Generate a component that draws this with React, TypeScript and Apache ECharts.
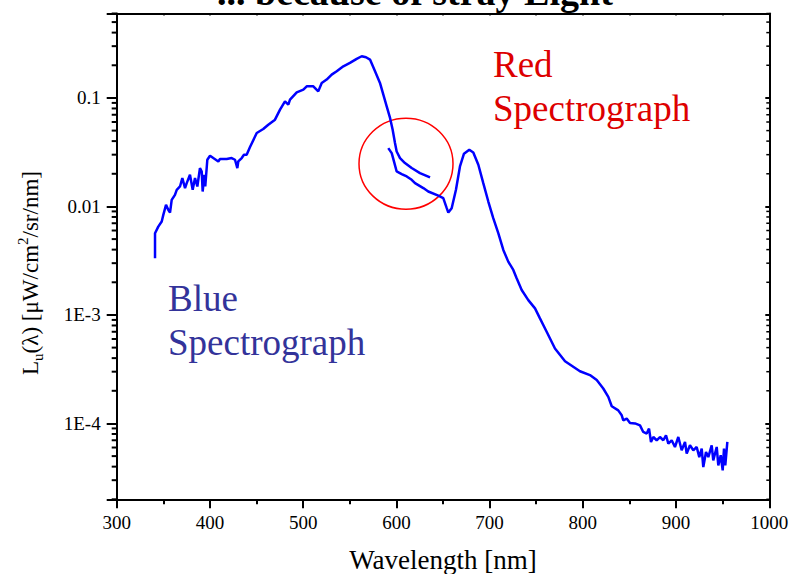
import React, { useEffect, useRef } from "react";
import * as echarts from "echarts";

// Blue spectrograph (wavelength nm, radiance)
const blueX = [341.1, 341.1, 344.6, 348.3, 350.0, 352.9, 355.3, 357.2, 359.0, 362.5, 364.4, 367.9, 370.4, 373.3, 375.1, 378.6, 381.5, 384.0, 386.5, 389.3, 391.2, 392.2, 394.0, 395.0, 397.2, 400.1, 403.6, 409.0, 410.8, 418.0, 423.3, 426.9, 429.4, 430.4, 434.1, 436.5, 439.4, 443.0, 450.2, 457.2, 462.6, 469.8, 475.2, 480.5, 484.1, 485.9, 493.1, 500.2, 503.8, 510.9, 516.2, 519.9, 525.2, 530.6, 536.0, 543.1, 550.2, 557.4, 562.8, 567.4, 571.7, 577.1, 582.4, 586.0, 589.6, 593.2, 596.0, 598.5, 600.3, 603.9, 609.2, 616.4, 625.3, 636.1];
const blueY = [0.00333, 0.00567, 0.00652, 0.00726, 0.00836, 0.01034, 0.0093, 0.00878, 0.0115, 0.0128, 0.01423, 0.01527, 0.01825, 0.01476, 0.01641, 0.01958, 0.01423, 0.0183, 0.01527, 0.02258, 0.021, 0.01373, 0.01958, 0.01527, 0.02694, 0.02933, 0.02793, 0.02598, 0.02734, 0.02734, 0.02793, 0.02694, 0.02258, 0.02598, 0.02793, 0.02995, 0.02995, 0.03528, 0.04752, 0.05174, 0.05668, 0.06305, 0.07798, 0.093, 0.0867, 0.0964, 0.1126, 0.1193, 0.128, 0.128, 0.115, 0.1375, 0.1476, 0.1641, 0.176, 0.1958, 0.2104, 0.2292, 0.2422, 0.237, 0.2257, 0.176, 0.1375, 0.1073, 0.0837, 0.0654, 0.051, 0.0384, 0.0321, 0.0279, 0.0251, 0.0226, 0.0203, 0.0185];

// Red spectrograph
const redX = [591.3, 595.0, 597.4, 600.3, 605.7, 611.1, 616.4, 620.0, 628.9, 634.2, 645.0, 650.3, 654.0, 655.7, 659.3, 663.9, 668.2, 672.5, 678.2, 682.5, 687.9, 693.2, 698.6, 703.9, 709.3, 714.7, 720.0, 725.4, 729.0, 734.4, 741.5, 748.7, 754.0, 761.2, 770.1, 780.9, 796.9, 807.6, 814.9, 821.9, 827.3, 831.0, 838.0, 841.7, 843.4, 847.0, 850.6, 856.0, 861.3, 864.8, 868.5, 871.0, 873.1, 875.6, 879.2, 882.7, 886.3, 889.2, 891.7, 895.3, 898.8, 902.4, 906.0, 909.6, 911.4, 914.9, 918.5, 922.1, 924.9, 927.5, 929.2, 932.1, 934.6, 938.2, 939.9, 943.6, 945.3, 947.9, 950.0, 951.4, 952.8, 955.0];
const redY = [0.0345, 0.031, 0.026, 0.021, 0.01987, 0.01888, 0.0176, 0.0164, 0.01476, 0.01373, 0.0126, 0.01193, 0.00964, 0.00878, 0.00964, 0.01423, 0.02336, 0.0306, 0.0333, 0.03145, 0.0242, 0.0164, 0.0111, 0.0078, 0.00567, 0.00397, 0.0031, 0.0026, 0.00218, 0.0017, 0.00137, 0.00115, 0.00093, 0.0007, 0.00049, 0.000375, 0.000303, 0.000279, 0.000251, 0.00021, 0.000176, 0.000144, 0.000132, 0.000119, 0.000107, 0.000111, 0.000101, 0.0001, 0.000096, 0.0000835, 0.0000807, 0.0000897, 0.0000675, 0.000075, 0.00007, 0.000075, 0.00007, 0.0000778, 0.0000652, 0.00007, 0.0000607, 0.000075, 0.0000566, 0.0000675, 0.0000527, 0.0000629, 0.0000566, 0.0000607, 0.000049, 0.0000586, 0.0000396, 0.0000545, 0.000049, 0.0000629, 0.0000457, 0.0000607, 0.0000411, 0.0000509, 0.000037, 0.0000586, 0.0000411, 0.0000675];

// Axis settings
const xMin = 300;
const xMax = 1000;
const xStep = 100;
const yMin = 2e-5;
const yMax = 0.6;
const minorMantissas = [2, 3, 4, 5, 6, 7, 8, 9];
const minorDecades = [-5, -4, -3, -2, -1];
const yTickLabels: Record<number, string> = { [-1]: "0.1", [-2]: "0.01", [-3]: "1E-3", [-4]: "1E-4" };

const FONT = "Liberation Serif";

export default function App() {
  const ref = useRef<HTMLDivElement>(null);
  useEffect(() => {
    if (!ref.current) return;
    const chart = echarts.init(ref.current, null, { renderer: "svg" });
    const blueData = blueX.map((x, i) => [x, blueY[i]]);
    const redData = redX.map((x, i) => [x, redY[i]]);
    const minorVals: number[][] = [];
    minorDecades.forEach((d) => {
      minorMantissas.forEach((m) => {
        const v = m * Math.pow(10, d);
        if (v >= yMin * 0.999 && v <= yMax * 1.001) minorVals.push([xMin, v]);
      });
    });
    const axisLine = { show: true, onZero: false, lineStyle: { color: "#000", width: 2 } };
    const yFormatter = (v: number) => {
      const l = Math.log10(v);
      const r = Math.round(l);
      if (Math.abs(l - r) > 1e-6) return "";
      return yTickLabels[r] ?? "";
    };
    chart.setOption({
      animation: false,
      backgroundColor: "#fff",
      textStyle: { fontFamily: FONT },
      grid: { left: 116.7, right: 21.7, top: 13.5, bottom: 74.7, containLabel: false, outerBoundsMode: "none" },
      xAxis: [
        {
          type: "value",
          min: xMin,
          max: xMax,
          interval: xStep,
          position: "bottom",
          axisLine,
          axisTick: { show: true, inside: false, length: 9, lineStyle: { color: "#000", width: 2 } },
          minorTick: { show: true, splitNumber: 2, length: 5, lineStyle: { color: "#000", width: 2 } },
          splitLine: { show: false },
          axisLabel: { fontFamily: FONT, fontSize: 19, color: "#000", margin: 14, formatter: (v: number) => String(v) },
          name: "Wavelength [nm]",
          nameLocation: "middle",
          nameGap: 47,
          nameTextStyle: { fontFamily: FONT, fontSize: 27, color: "#000" },
        },
        {
          type: "value",
          min: xMin,
          max: xMax,
          interval: xStep / 2,
          position: "top",
          axisLine,
          axisTick: { show: true, inside: true, length: 2, lineStyle: { color: "#000", width: 1.5 } },
          axisLabel: { show: false },
          splitLine: { show: false },
        },
      ],
      yAxis: [
        {
          type: "log",
          logBase: 10,
          min: yMin,
          max: yMax,
          position: "left",
          axisLine,
          axisTick: { show: true, inside: false, length: 10, lineStyle: { color: "#000", width: 2 } },
          splitLine: { show: false },
          axisLabel: { fontFamily: FONT, fontSize: 19, color: "#000", margin: 16, formatter: yFormatter },
        },
        {
          type: "log",
          logBase: 10,
          min: yMin,
          max: yMax,
          position: "right",
          axisLine,
          axisTick: { show: true, inside: true, length: 4, lineStyle: { color: "#000", width: 2 } },
          splitLine: { show: false },
          axisLabel: { show: false },
        },
      ],
      series: [
        {
          type: "line",
          name: "Blue Spectrograph",
          data: blueData,
          showSymbol: false,
          lineStyle: { color: "#0000ff", width: 2.5 },
          itemStyle: { color: "#0000ff" },
        },
        {
          type: "line",
          name: "Red Spectrograph",
          data: redData,
          showSymbol: false,
          lineStyle: { color: "#0000ff", width: 2.5 },
          itemStyle: { color: "#0000ff" },
        },
        {
          type: "custom",
          name: "minor ticks",
          silent: true,
          clip: false,
          data: minorVals,
          renderItem: (params: any, api: any) => {
            const v = api.value(1);
            const l = api.coord([xMin, v]);
            const r = api.coord([xMax, v]);
            return {
              type: "group",
              children: [
                { type: "line", shape: { x1: l[0] - 5, y1: l[1], x2: l[0], y2: l[1] }, style: { stroke: "#000", lineWidth: 2 } },
                { type: "line", shape: { x1: r[0] - 3, y1: r[1], x2: r[0], y2: r[1] }, style: { stroke: "#000", lineWidth: 1.5 } },
              ],
            };
          },
        },
      ],
      graphic: [
        {
          type: "text",
          x: 217,
          y: -8,
          style: { text: "... because of stray Light", fontFamily: FONT, fontSize: 38, fontWeight: "bold", fill: "#000", align: "left", verticalAlign: "middle" },
        },
        {
          type: "text",
          x: 30,
          y: 273,
          rotation: Math.PI / 2,
          style: {
            text: "L{sub|u}(λ) [μW/cm{sup|2}/sr/nm]",
            fontFamily: FONT,
            fontSize: 23,
            lineHeight: 30,
            fill: "#000",
            align: "center",
            verticalAlign: "middle",
            rich: {
              sub: { fontFamily: FONT, fontSize: 15, verticalAlign: "bottom", fill: "#000" },
              sup: { fontFamily: FONT, fontSize: 15, verticalAlign: "top", fill: "#000" },
            },
          },
        },
        {
          type: "text",
          x: 493,
          y: 42,
          style: { text: "Red\nSpectrograph", fontFamily: FONT, fontSize: 37, lineHeight: 44, fill: "#dd0000", align: "left", verticalAlign: "top" },
        },
        {
          type: "text",
          x: 168,
          y: 276,
          style: { text: "Blue\nSpectrograph", fontFamily: FONT, fontSize: 37, lineHeight: 44, fill: "#33339a", align: "left", verticalAlign: "top" },
        },
        {
          type: "ellipse",
          shape: { cx: 406, cy: 163.7, rx: 47, ry: 45.5 },
          style: { fill: "none", stroke: "#ff0000", lineWidth: 1.5 },
        },
      ],
    });
    return () => chart.dispose();
  }, []);
  return <div ref={ref} style={{ position: "fixed", left: 0, top: 0, width: 791, height: 574 }} />;
}
